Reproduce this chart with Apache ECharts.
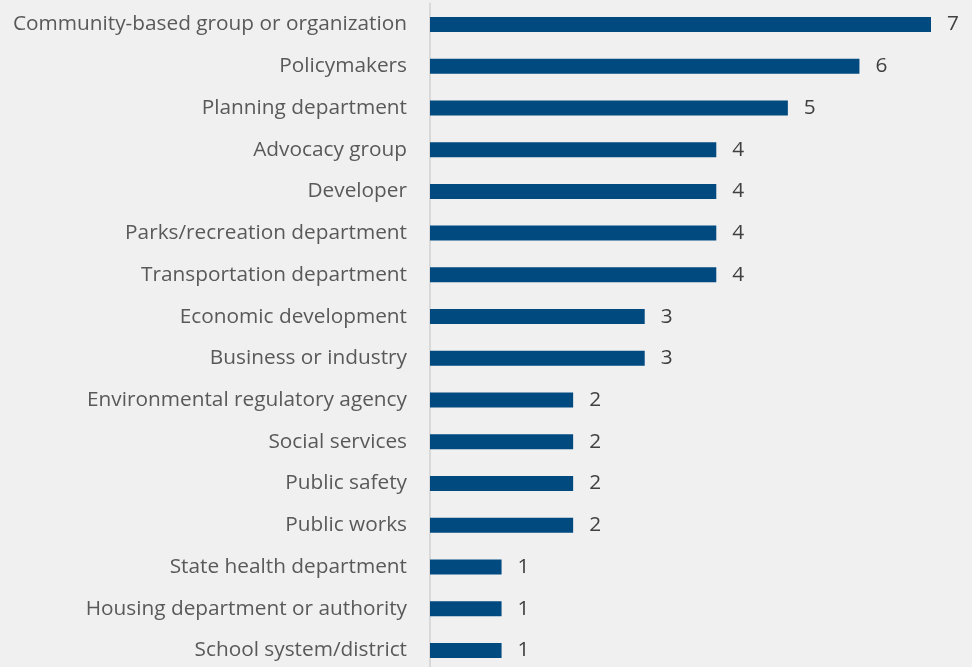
<!DOCTYPE html>
<html>
<head>
<meta charset="utf-8">
<script src="https://cdn.jsdelivr.net/npm/echarts@6/dist/echarts.min.js"></script>
<style>
  html, body { margin: 0; padding: 0; background: #f0f0f0; overflow: hidden; }
  /* plot runs slightly past the bottom edge of the view */
  #chart { width: 972px; height: 680px; }
</style>
</head>
<body>
<div id="chart"></div>
<script>
// Partner types, listed top to bottom
const categories = [
  'Community-based group or organization',
  'Policymakers',
  'Planning department',
  'Advocacy group',
  'Developer',
  'Parks/recreation department',
  'Transportation department',
  'Economic development',
  'Business or industry',
  'Environmental regulatory agency',
  'Social services',
  'Public safety',
  'Public works',
  'State health department',
  'Housing department or authority',
  'School system/district'
];
const counts = [7, 6, 5, 4, 4, 4, 4, 3, 3, 2, 2, 2, 2, 1, 1, 1];

const chart = echarts.init(document.getElementById('chart'));
chart.setOption({
  backgroundColor: '#f0f0f0',
  animation: false,
  grid: { left: 430, width: 501, top: 3.6, height: 667.7, containLabel: false },
  xAxis: {
    type: 'value', min: 0, max: 7,
    show: false
  },
  yAxis: {
    type: 'category',
    inverse: true,
    data: categories,
    axisLine: { show: true, lineStyle: { color: '#d9d9d9', width: 2 } },
    axisTick: { show: false },
    axisLabel: {
      color: '#595959',
      fontFamily: 'Open Sans',
      fontSize: 20.8,
      margin: 23
    }
  },
  series: [{
    type: 'bar',
    data: counts,
    barWidth: 15,
    itemStyle: { color: '#004a80' },
    label: {
      show: true,
      position: 'right',
      distance: 16,
      color: '#404040',
      fontFamily: 'Open Sans',
      fontSize: 20.8
    }
  }]
});
</script>
</body>
</html>
